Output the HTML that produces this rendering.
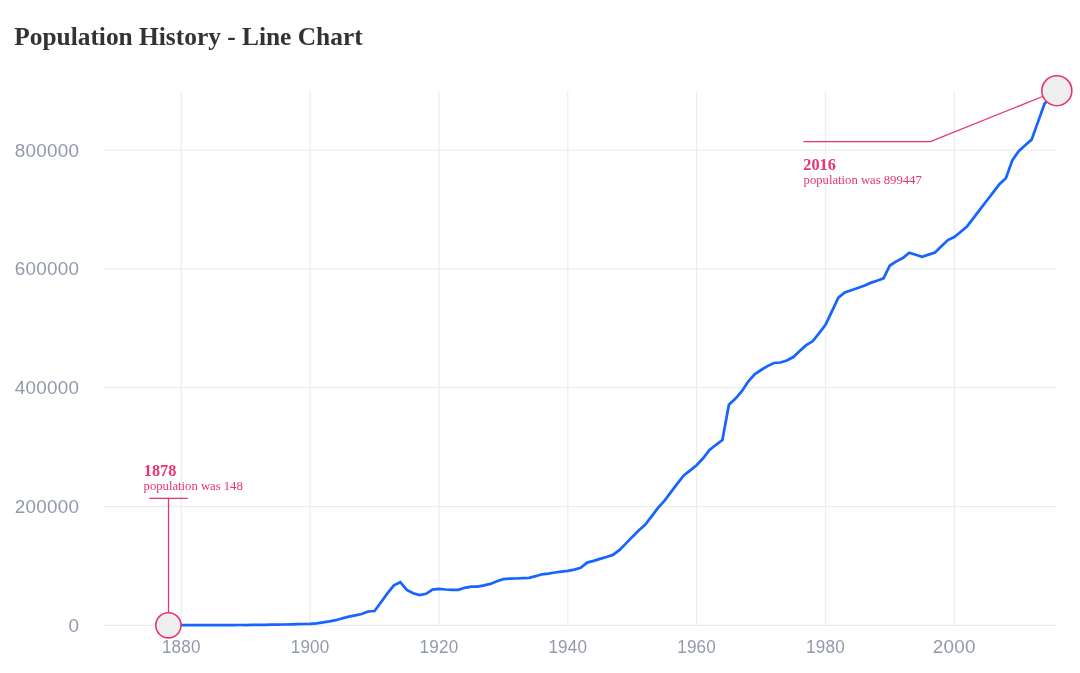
<!DOCTYPE html>
<html lang="en">
<head>
<meta charset="utf-8">
<title>Population History - Line Chart</title>
<style>
html,body{margin:0;padding:0;background:#fff;}
body{width:1080px;height:673px;overflow:hidden;position:relative;font-family:"Liberation Serif",serif;}
h2{position:absolute;left:14.2px;top:21.8px;margin:0;font-family:"Liberation Serif",serif;font-weight:bold;font-size:25.4px;line-height:29px;color:#333;white-space:nowrap;}
svg{position:absolute;left:0;top:0;}
.grid line{stroke:#ebedf3;stroke-width:1.25;}
.axis text{font-family:"Liberation Sans",sans-serif;font-size:18.9px;letter-spacing:0.22px;fill:#9299ac;}
.ann{stroke:#e8336d;fill:none;stroke-width:1.25;}
.ann circle{fill:#eee;stroke-width:1.6;}
.note text{font-family:"Liberation Serif",serif;fill:#e8336d;}
.note .t{font-weight:bold;font-size:16.3px;}
.note .l{font-size:12.66px;}
</style>
</head>
<body>
<h2>Population History - Line Chart</h2>
<svg width="1080" height="673" viewBox="0 0 1080 673">
<g class="grid">
<line x1="104.0" x2="1057.0" y1="625.3" y2="625.3"/>
<line x1="104.0" x2="1057.0" y1="506.5" y2="506.5"/>
<line x1="104.0" x2="1057.0" y1="387.6" y2="387.6"/>
<line x1="104.0" x2="1057.0" y1="268.8" y2="268.8"/>
<line x1="104.0" x2="1057.0" y1="150.0" y2="150.0"/>
<line x1="181.3" x2="181.3" y1="90.9" y2="625.3"/>
<line x1="310.1" x2="310.1" y1="90.9" y2="625.3"/>
<line x1="439.0" x2="439.0" y1="90.9" y2="625.3"/>
<line x1="567.8" x2="567.8" y1="90.9" y2="625.3"/>
<line x1="696.6" x2="696.6" y1="90.9" y2="625.3"/>
<line x1="825.5" x2="825.5" y1="90.9" y2="625.3"/>
<line x1="954.3" x2="954.3" y1="90.9" y2="625.3"/>
</g>
<g class="axis">
<text x="79.2" y="631.9" text-anchor="end">0</text>
<text x="79.2" y="513.1" text-anchor="end">200000</text>
<text x="79.2" y="394.2" text-anchor="end">400000</text>
<text x="79.2" y="275.4" text-anchor="end">600000</text>
<text x="79.2" y="156.6" text-anchor="end">800000</text>
<text x="181.3" y="653.2" text-anchor="middle" textLength="38.8" lengthAdjust="spacingAndGlyphs">1880</text>
<text x="310.1" y="653.2" text-anchor="middle" textLength="38.8" lengthAdjust="spacingAndGlyphs">1900</text>
<text x="439.0" y="653.2" text-anchor="middle" textLength="38.8" lengthAdjust="spacingAndGlyphs">1920</text>
<text x="567.8" y="653.2" text-anchor="middle" textLength="38.8" lengthAdjust="spacingAndGlyphs">1940</text>
<text x="696.6" y="653.2" text-anchor="middle" textLength="38.8" lengthAdjust="spacingAndGlyphs">1960</text>
<text x="825.5" y="653.2" text-anchor="middle" textLength="38.8" lengthAdjust="spacingAndGlyphs">1980</text>
<text x="954.3" y="653.2" text-anchor="middle">2000</text>
</g>
<polyline points="168.4,625.2 174.8,625.2 181.3,625.2 187.7,625.1 194.2,625.1 200.6,625.1 207.1,625.1 213.5,625.1 219.9,625.1 226.4,625.1 232.8,625.1 239.3,625.0 245.7,625.0 252.1,624.9 258.6,624.9 265.0,624.8 271.5,624.7 277.9,624.6 284.4,624.5 290.8,624.3 297.2,624.2 303.7,624.0 310.1,623.9 316.6,623.3 323.0,622.4 329.5,621.4 335.9,620.2 342.3,618.3 348.8,616.6 355.2,615.3 361.7,614.0 368.1,611.5 374.5,611.0 381.0,602.2 387.4,593.4 393.9,585.3 400.3,582.2 406.8,590.0 413.2,593.3 419.6,595.0 426.1,593.8 432.5,589.7 439.0,589.0 445.4,589.5 451.8,589.8 458.3,589.8 464.7,587.8 471.2,586.6 477.6,586.6 484.1,585.4 490.5,583.9 496.9,581.2 503.4,579.2 509.8,578.7 516.3,578.5 522.7,578.2 529.2,577.9 535.6,576.2 542.0,574.3 548.5,573.6 554.9,572.5 561.4,571.6 567.8,570.8 574.2,569.6 580.7,567.8 587.1,562.6 593.6,560.9 600.0,558.9 606.5,557.0 612.9,554.9 619.3,550.1 625.8,543.6 632.2,536.9 638.7,530.5 645.1,524.8 651.6,516.3 658.0,507.8 664.4,500.9 670.9,492.1 677.3,483.7 683.8,475.5 690.2,470.4 696.6,465.3 703.1,458.3 709.5,450.0 716.0,444.8 722.4,440.0 728.9,404.7 735.3,398.8 741.7,391.4 748.2,381.6 754.6,374.3 761.1,370.0 767.5,366.1 773.9,363.0 780.4,362.5 786.8,360.5 793.3,357.0 799.7,351.1 806.2,345.2 812.6,341.3 819.0,333.4 825.5,324.8 831.9,311.3 838.4,297.7 844.8,292.5 851.3,290.3 857.7,288.0 864.1,285.7 870.6,282.9 877.0,280.7 883.5,278.4 889.9,265.5 896.3,261.4 902.8,258.0 909.2,252.8 915.7,254.8 922.1,256.8 928.6,254.6 935.0,252.5 941.4,246.3 947.9,240.1 954.3,237.1 960.8,231.7 967.2,226.2 973.6,217.8 980.1,209.4 986.5,201.0 993.0,192.6 999.4,184.1 1005.9,178.3 1012.3,160.4 1018.7,151.1 1025.2,145.3 1031.6,139.6 1038.1,121.6 1044.5,103.7 1051.0,97.3 1057.4,90.9" fill="none" stroke="#1765fc" stroke-width="2.75" stroke-linejoin="miter" stroke-linecap="butt"/>
<g class="ann">
<path d="M168.5 612.5V498.3M149.3 498.3H187.8"/>
<circle cx="168.4" cy="625.3" r="12.6"/>
<path d="M803.4 141.7H930.4L1042.6 96.5"/>
<circle cx="1056.85" cy="90.7" r="15.0"/>
</g>
<g class="note">
<text class="t" x="143.8" y="476.1">1878</text>
<text class="l" x="143.6" y="489.9">population was 148</text>
<text class="t" x="803.3" y="169.8">2016</text>
<text class="l" x="803.6" y="183.6">population was 899447</text>
</g>
</svg>
</body>
</html>
